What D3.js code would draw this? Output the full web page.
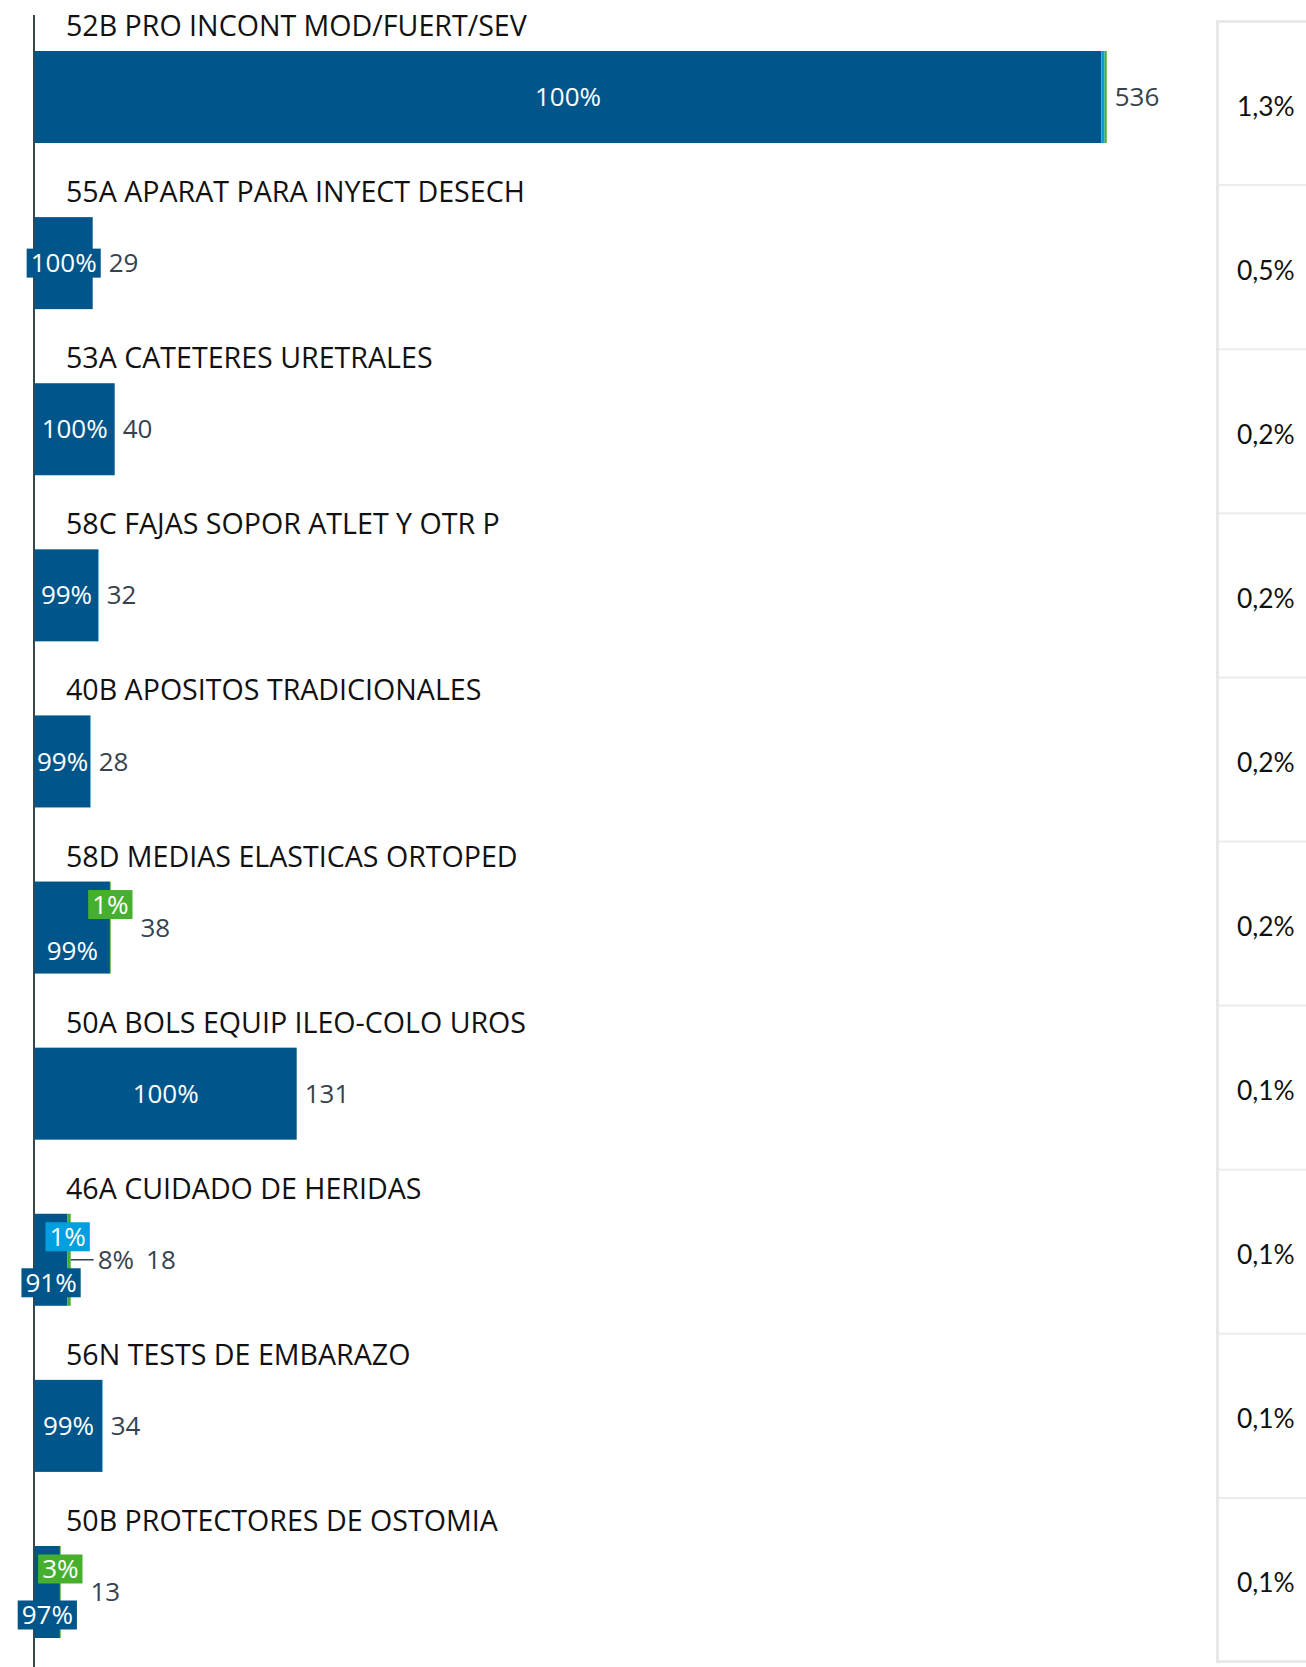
<!DOCTYPE html>
<html>
<head>
<meta charset="utf-8">
<script src="https://cdn.jsdelivr.net/npm/d3@7"></script>
<style>
  body { margin: 0; background: #fff; }
  svg { display: block; }
</style>
</head>
<body>
<svg id="chart" width="1306" height="1667"></svg>
<script>
// Product families, units sold and channel mix (percent of units per family)
const categories = [
  "52B PRO INCONT MOD/FUERT/SEV",
  "55A APARAT PARA INYECT DESECH",
  "53A CATETERES URETRALES",
  "58C FAJAS SOPOR ATLET Y OTR P",
  "40B APOSITOS TRADICIONALES",
  "58D MEDIAS ELASTICAS ORTOPED",
  "50A BOLS EQUIP ILEO-COLO UROS",
  "46A CUIDADO DE HERIDAS",
  "56N TESTS DE EMBARAZO",
  "50B PROTECTORES DE OSTOMIA"
];
const totals   = [536, 29, 40, 32, 28, 38, 131, 18, 34, 13];
const pctDark  = [99.5, 100, 100, 99.4, 99.4, 99, 100, 91, 99.4, 97];
const pctLight = [0.3, 0, 0, 0.6, 0.6, 0, 0, 1, 0.6, 0];
const pctGreen = [0.2, 0, 0, 0, 0, 1, 0, 8, 0, 3];
// Share of total per family (right-hand column)
const shares   = [1.3, 0.5, 0.2, 0.2, 0.2, 0.2, 0.1, 0.1, 0.1, 0.1];

const W = 1306, H = 1667;
const colors = { dark: "#00568a", light: "#009fdf", green: "#46b02e" };
const svg = d3.select("#chart");

const x = d3.scaleLinear().domain([0, 536]).range([34.7, 1106.7]);
const y = d3.scaleBand().domain(categories).range([51, 1638])
  .paddingInner(0.446).paddingOuter(0);
const bw = y.bandwidth();

const pctFmt = d3.format(".0f");
const locale = d3.formatLocale({ decimal: ",", thousands: ".", grouping: [3], currency: ["", "€"] });
const shareFmt = locale.format(".1f");

const rows = categories.map((c, i) => {
  let acc = 0;
  const segs = [
    { key: "dark", pct: pctDark[i] },
    { key: "light", pct: pctLight[i] },
    { key: "green", pct: pctGreen[i] }
  ].map(s => {
    const v0 = acc, v1 = acc + totals[i] * s.pct / 100;
    acc = v1;
    return { ...s, v0, v1 };
  });
  return { cat: c, total: totals[i], segs };
});

const gRows = svg.append("g");

rows.forEach(r => {
  const g = gRows.append("g");
  const top = y(r.cat);
  const cy = top + bw / 2;

  // category title
  g.append("text")
    .attr("x", 66).attr("y", top - 15)
    .attr("font-family", "'Open Sans', sans-serif")
    .attr("font-size", 28.6).attr("fill", "#111")
    .text(r.cat);

  // stacked segments
  g.selectAll("rect.seg").data(r.segs.filter(s => s.pct > 0)).join("rect")
    .attr("class", "seg")
    .attr("x", s => x(s.v0)).attr("y", top)
    .attr("width", s => Math.max(0, x(s.v1) - x(s.v0)))
    .attr("height", bw)
    .attr("fill", s => colors[s.key]);

  const barEnd = x(r.total);
  let rightMost = barEnd;

  const labelled = r.segs.filter(s => s.pct >= 1);
  const others = labelled.filter(s => s.key !== "dark");
  const labelFont = { family: "'Open Sans', sans-serif", size: 26 };

  labelled.forEach(s => {
    const txt = pctFmt(s.pct) + "%";
    const idx = others.indexOf(s);
    const outside = idx >= 1;
    let ly = cy;
    if (s.key === "dark" && labelled.length > 1) ly = cy + 23;
    if (idx === 0) ly = cy - 23;

    if (outside) {
      // leader line and label beside the bar
      g.append("line")
        .attr("x1", barEnd).attr("x2", barEnd + 23)
        .attr("y1", cy).attr("y2", cy)
        .attr("stroke", "#37474f").attr("stroke-width", 1.5);
      const t = g.append("text")
        .attr("x", barEnd + 27).attr("y", cy)
        .attr("dy", "0.35em")
        .attr("font-family", labelFont.family).attr("font-size", labelFont.size)
        .attr("fill", "#36434e").text(txt);
      rightMost = Math.max(rightMost, barEnd + 27 + t.node().getComputedTextLength() + 4);
      return;
    }

    const cx = (x(s.v0) + x(s.v1)) / 2;
    const box = g.append("rect");
    const t = g.append("text")
      .attr("x", cx).attr("y", ly).attr("dy", "0.35em")
      .attr("text-anchor", "middle")
      .attr("font-family", labelFont.family).attr("font-size", labelFont.size)
      .attr("fill", "#fff").text(txt);
    const tw = t.node().getComputedTextLength();
    const segW = x(s.v1) - x(s.v0);
    if (s.key !== "dark" || tw > segW - 2) {
      const bwid = tw + 8;
      box.attr("x", cx - bwid / 2).attr("y", ly - 14.5)
        .attr("width", bwid).attr("height", 29)
        .attr("fill", colors[s.key]);
      rightMost = Math.max(rightMost, cx + bwid / 2);
    } else {
      box.remove();
    }
  });

  // total value
  g.append("text")
    .attr("x", rightMost + 8).attr("y", cy).attr("dy", "0.35em")
    .attr("font-family", labelFont.family).attr("font-size", labelFont.size)
    .attr("fill", "#36434e")
    .text(r.total);
});

// vertical baseline
svg.append("line")
  .attr("x1", 34).attr("x2", 34).attr("y1", 15).attr("y2", H)
  .attr("stroke", "#37474f").attr("stroke-width", 2);
gRows.raise();

// right-hand share column
const py = d3.scaleBand().domain(categories).range([21, 1662]);
const panel = svg.append("g");
panel.append("rect")
  .attr("x", 1217.5).attr("y", 21.5).attr("width", 120).attr("height", 1640)
  .attr("fill", "#fff").attr("stroke", "#e8e8e8").attr("stroke-width", 3);
panel.selectAll("line.div").data(categories.slice(1)).join("line")
  .attr("class", "div")
  .attr("x1", 1219).attr("x2", W)
  .attr("y1", c => py(c)).attr("y2", c => py(c))
  .attr("stroke", "#ececec").attr("stroke-width", 2);
panel.selectAll("text.share").data(categories).join("text")
  .attr("class", "share")
  .attr("x", 1237)
  .attr("y", c => py(c) + py.bandwidth() / 2 + 12.5)
  .attr("font-family", "Lato, sans-serif").attr("font-size", 26.4)
  .attr("fill", "#111")
  .text((c, i) => shareFmt(shares[i]) + "%");
</script>
</body>
</html>
